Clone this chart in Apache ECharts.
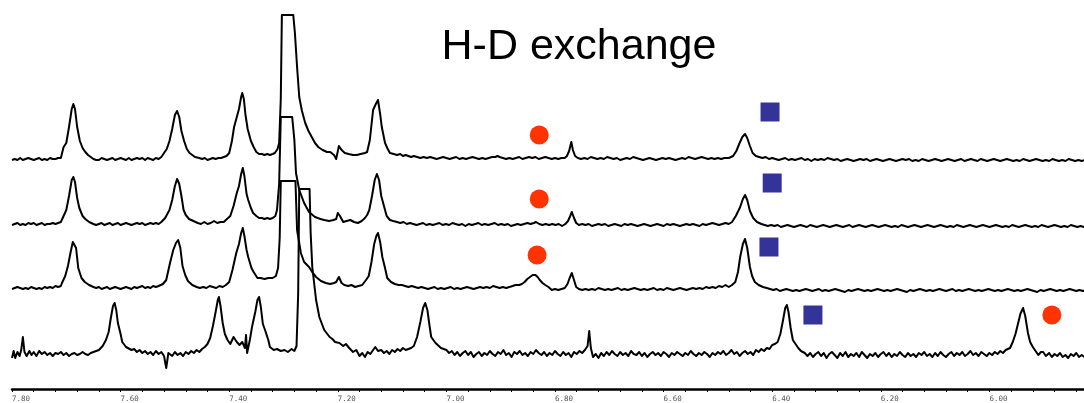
<!DOCTYPE html>
<html>
<head>
<meta charset="utf-8">
<title>H-D exchange</title>
<script src="https://cdn.jsdelivr.net/npm/echarts@6/dist/echarts.min.js"></script>
<style>
  html, body { margin: 0; padding: 0; background: #fff; }
  #chart { width: 1084px; height: 403px; }
</style>
</head>
<body>
<div id="chart"></div>
<script>
// spectra: [ppm, intensity above own baseline]
const traceA = [
[7.800,-1],[7.795,0],[7.790,-1],[7.785,1],[7.780,-1],[7.775,0],[7.770,1],[7.765,0],[7.760,-1],[7.755,0],[7.750,1],[7.745,-1],[7.740,0],[7.735,-1],[7.730,1],[7.725,0],[7.720,0],[7.715,1],[7.710,1],
[7.708,3],[7.705,12],[7.700,16],[7.695,32],[7.690,50],[7.687,55],[7.684,50],[7.680,32],[7.675,18],[7.670,11],[7.665,7],[7.660,4],[7.655,2],[7.650,0],
[7.645,-1],[7.640,-1],[7.635,1],[7.630,0],[7.625,-1],[7.620,0],[7.615,1],[7.610,-1],[7.605,0],[7.600,1],[7.595,0],[7.590,-1],[7.585,1],[7.580,-1],[7.575,0],[7.570,1],[7.565,0],[7.560,1],[7.555,-1],[7.550,1],[7.545,0],[7.540,-1],[7.535,1],[7.530,0],[7.525,2],
[7.522,4],[7.515,10],[7.510,18],[7.505,30],[7.500,44],[7.496,48],[7.492,42],[7.488,28],[7.483,18],[7.478,10],[7.473,6],[7.468,4],[7.463,2],[7.455,1],
[7.450,0],[7.445,1],[7.440,-1],[7.435,0],[7.430,1],[7.425,0],[7.420,1],[7.415,1],[7.410,2],
[7.405,3],[7.400,6],[7.395,18],[7.391,32],[7.386,42],[7.382,50],[7.378,62],[7.376,66],[7.373,60],[7.370,44],[7.366,30],[7.360,18],[7.355,12],[7.350,7],[7.345,5],
[7.340,5],[7.335,4],[7.330,5],[7.325,4],[7.320,5],[7.316,6],[7.311,10],[7.308,16],[7.305,60],[7.303,144],[7.282,144],
[7.279,126],[7.275,92],[7.271,62],[7.266,48],[7.260,36],[7.254,28],[7.248,22],[7.242,16],[7.236,12],[7.228,9],[7.220,7],[7.214,7],[7.211,9],[7.207,4],[7.203,0],[7.198,13],[7.193,9],[7.187,6],[7.180,5],[7.172,4],[7.165,4],[7.158,5],[7.150,6],[7.146,7],
[7.141,19],[7.135,49],[7.130,55],[7.126,59],[7.122,45],[7.119,32],[7.113,16],[7.108,10],[7.104,6],[7.097,5],[7.091,4],
[7.085,5],[7.080,3],[7.075,4],[7.070,3],[7.065,2],[7.060,3],[7.054,2],[7.048,1],[7.042,2],[7.036,1],[7.030,2],[7.024,1],[7.018,0],[7.012,1],[7.006,2],[7.000,1],[6.994,0],[6.988,1],[6.982,2],[6.976,0],[6.970,1],[6.964,0],[6.958,1],[6.952,2],[6.946,1],[6.940,0],[6.934,1],[6.928,0],[6.922,1],[6.916,2],[6.910,2],[6.906,3],[6.902,2],[6.896,1],[6.890,0],[6.884,1],[6.878,0],[6.872,1],[6.866,2],[6.860,0],[6.854,1],[6.848,2],[6.842,1],[6.836,2],[6.830,0],[6.824,1],[6.818,2],[6.812,1],[6.806,0],[6.800,1],[6.794,0],[6.788,1],[6.782,1],
[6.778,3],[6.774,8],[6.770,17],[6.767,9],[6.763,3],[6.758,1],[6.752,0],[6.746,1],[6.740,0],[6.734,2],[6.728,1],[6.722,0],[6.716,1],[6.710,0],[6.704,2],[6.698,1],[6.692,0],[6.686,1],[6.680,-1],[6.674,0],[6.668,1],[6.662,0],[6.656,2],[6.650,1],[6.644,0],[6.638,-1],[6.632,0],[6.626,1],[6.620,0],[6.614,-1],[6.608,0],[6.602,1],[6.596,0],[6.590,1],[6.584,0],[6.578,-1],[6.572,0],[6.566,1],[6.560,0],[6.554,2],[6.548,1],[6.542,0],[6.536,1],[6.530,2],[6.524,1],[6.518,0],[6.512,1],[6.506,0],[6.500,1],[6.494,0],[6.488,1],[6.480,1],
[6.472,3],[6.466,8],[6.460,16],[6.455,22],[6.450,25],[6.446,21],[6.441,13],[6.436,6],[6.430,3],[6.424,2],[6.418,1],[6.412,2],[6.406,0],[6.400,1],[6.394,0],[6.388,-1],[6.382,0],[6.376,1],[6.370,-1],[6.364,0],[6.358,-1],[6.352,0],[6.346,1],[6.340,-1],[6.334,0],[6.328,-2],[6.322,0],[6.316,-1],[6.310,0],[6.304,-1],[6.298,1],[6.292,0],[6.286,-1],[6.280,0],[6.274,-2],[6.268,-1],[6.262,0],[6.256,-1],[6.250,-2],[6.244,-1],[6.238,0],[6.232,-1],[6.226,0],[6.220,-2],[6.214,-1],[6.208,0],[6.202,-1],[6.196,-2],[6.190,-1],[6.184,0],[6.178,-1],[6.172,-2],[6.166,-1],[6.160,0],[6.154,-1],[6.148,0],[6.142,-2],[6.136,-1],[6.130,-2],[6.124,0],[6.118,-1],[6.112,-2],[6.106,-1],[6.100,0],[6.094,-1],[6.088,-2],[6.082,-1],[6.076,0],[6.070,-1],[6.064,-2],[6.058,-1],[6.052,0],[6.046,-2],[6.040,-1],[6.034,0],[6.028,-1],[6.022,-2],[6.016,0],[6.010,-1],[6.004,-2],[5.998,-1],[5.992,0],[5.986,-1],[5.980,-2],[5.974,-1],[5.968,0],[5.962,-1],[5.956,-2],[5.950,-1],[5.944,-2],[5.938,0],[5.932,-1],[5.926,-2],[5.920,-1],[5.914,0],[5.908,-1],[5.902,-2],[5.896,-1],[5.890,-2],[5.884,0],[5.878,-1],[5.872,-2],[5.866,-1],[5.860,-2],[5.854,0],[5.848,-1],[5.842,-2],[5.836,-1],[5.830,-2],[5.824,-1],[5.818,-2]
];

const traceB = [
[7.800,-1],[7.795,0],[7.790,1],[7.785,-1],[7.780,0],[7.775,-1],[7.770,1],[7.765,0],[7.760,1],[7.755,-1],[7.750,0],[7.745,1],[7.740,-1],[7.735,0],[7.730,0],[7.725,1],[7.720,0],[7.715,1],[7.710,2],
[7.705,8],[7.700,14],[7.695,28],[7.690,44],[7.687,47],[7.684,42],[7.680,26],[7.676,16],[7.670,8],[7.665,5],[7.658,2],[7.650,0],
[7.645,-1],[7.640,0],[7.635,1],[7.630,-1],[7.625,0],[7.620,1],[7.615,-1],[7.610,0],[7.605,1],[7.600,-1],[7.595,0],[7.590,1],[7.585,0],[7.580,-1],[7.575,0],[7.570,1],[7.565,0],[7.560,1],[7.555,-1],[7.550,0],[7.545,1],[7.540,0],[7.535,1],[7.530,0],[7.525,2],
[7.518,6],[7.510,14],[7.505,24],[7.500,38],[7.496,45],[7.492,40],[7.488,28],[7.484,14],[7.480,9],[7.474,5],[7.466,3],[7.458,1],
[7.452,0],[7.446,2],[7.440,0],[7.434,1],[7.428,3],[7.422,1],[7.416,2],[7.410,2],[7.404,5],
[7.398,8],[7.392,18],[7.386,31],[7.382,38],[7.378,50],[7.375,56],[7.372,48],[7.368,30],[7.365,24],[7.360,16],[7.356,11],[7.350,8],[7.345,6],
[7.340,6],[7.335,5],[7.330,6],[7.325,5],[7.320,6],[7.315,8],[7.312,14],[7.308,40],[7.305,107],[7.284,107],
[7.280,84],[7.277,51],[7.271,34],[7.262,21],[7.253,12],[7.242,7],[7.232,5],[7.225,4],[7.216,3],[7.208,4],[7.203,5],[7.200,11],[7.196,8],[7.190,2],[7.184,3],[7.177,4],[7.170,2],[7.163,1],[7.156,3],[7.150,6],[7.146,9],
[7.142,14],[7.137,28],[7.132,44],[7.128,50],[7.124,44],[7.120,28],[7.116,20],[7.110,8],[7.104,4],[7.098,3],[7.091,2],
[7.085,1],[7.079,2],[7.073,0],[7.067,1],[7.061,0],[7.055,-1],[7.049,0],[7.043,1],[7.037,-1],[7.031,0],[7.025,-1],[7.019,0],[7.013,1],[7.007,-1],[7.001,0],[6.995,-1],[6.989,1],[6.983,0],[6.977,-1],[6.971,0],[6.965,-2],[6.959,0],[6.953,-1],[6.947,0],[6.941,1],[6.935,-1],[6.929,0],[6.923,-1],[6.917,0],[6.911,1],[6.905,-1],[6.899,0],[6.893,-1],[6.887,0],[6.881,-2],[6.875,-1],[6.869,0],[6.863,-1],[6.857,0],[6.851,1],[6.845,0],[6.839,1],[6.835,2],[6.829,0],[6.823,-1],[6.817,0],[6.811,-1],[6.805,0],[6.799,-1],[6.793,0],[6.787,-2],[6.781,0],
[6.776,3],[6.772,8],[6.769,12],[6.765,6],[6.761,1],[6.756,-1],[6.750,0],[6.744,-1],[6.738,0],[6.732,-2],[6.726,-1],[6.720,0],[6.714,-1],[6.708,0],[6.702,-2],[6.696,-1],[6.690,0],[6.684,-1],[6.678,-2],[6.672,0],[6.666,-1],[6.660,0],[6.654,-1],[6.648,-2],[6.642,-1],[6.636,0],[6.630,-1],[6.624,-2],[6.618,-1],[6.612,0],[6.606,-1],[6.600,-2],[6.594,0],[6.588,-1],[6.582,0],[6.576,-1],[6.570,-2],[6.564,-1],[6.558,0],[6.552,-1],[6.546,0],[6.540,-1],[6.534,-2],[6.528,0],[6.522,-1],[6.516,0],[6.510,1],[6.504,0],[6.498,-1],[6.492,0],[6.486,1],[6.480,0],
[6.474,2],[6.467,8],[6.459,17],[6.454,25],[6.450,29],[6.446,24],[6.441,13],[6.435,6],[6.428,2],[6.420,0],[6.414,-1],[6.408,-2],[6.402,-1],[6.396,-2],[6.390,-1],[6.384,-3],[6.378,-2],[6.372,-1],[6.366,-2],[6.360,-3],[6.354,-2],[6.348,-1],[6.342,-2],[6.336,-3],[6.330,-1],[6.324,-2],[6.318,-3],[6.312,-2],[6.306,-1],[6.300,-2],[6.294,-3],[6.288,-2],[6.282,-1],[6.276,-2],[6.270,-3],[6.264,-2],[6.258,-1],[6.252,-3],[6.246,-2],[6.240,-1],[6.234,-2],[6.228,-3],[6.222,-2],[6.216,-1],[6.210,-2],[6.204,-3],[6.198,-2],[6.192,-1],[6.186,-2],[6.180,-3],[6.174,-2],[6.168,-3],[6.162,-1],[6.156,-2],[6.150,-3],[6.144,-2],[6.138,-1],[6.132,-2],[6.126,-3],[6.120,-2],[6.114,-1],[6.108,-2],[6.102,-3],[6.096,-2],[6.090,-1],[6.084,-2],[6.078,-3],[6.072,-2],[6.066,-3],[6.060,-1],[6.054,-2],[6.048,-3],[6.042,-2],[6.036,-1],[6.030,-2],[6.024,-3],[6.018,-2],[6.012,-1],[6.006,-2],[6.000,-3],[5.994,-2],[5.988,-1],[5.982,-2],[5.976,-3],[5.970,-2],[5.964,-3],[5.958,-1],[5.952,-2],[5.946,-3],[5.940,-2],[5.934,-1],[5.928,-2],[5.922,-3],[5.916,-2],[5.910,-3],[5.904,-1],[5.898,-2],[5.892,-3],[5.886,-2],[5.880,-1],[5.874,-2],[5.868,-3],[5.862,-2],[5.856,-3],[5.850,-1],[5.844,-2],[5.838,-3],[5.832,-2],[5.826,-3],[5.820,-2]
];

const traceC = [
[7.800,-1],[7.795,0],[7.790,1],[7.785,0],[7.780,-1],[7.775,0],[7.770,-1],[7.765,1],[7.760,0],[7.755,-1],[7.750,0],[7.745,-1],[7.740,1],[7.735,0],[7.730,1],[7.725,0],[7.720,2],[7.715,1],[7.710,2],
[7.708,5],[7.702,12],[7.697,22],[7.692,36],[7.688,46],[7.685,48],[7.682,40],[7.678,20],[7.672,10],[7.666,6],[7.658,3],[7.650,1],
[7.645,0],[7.640,1],[7.635,-1],[7.630,0],[7.625,1],[7.620,-1],[7.615,0],[7.610,1],[7.605,0],[7.600,-1],[7.595,0],[7.590,1],[7.585,0],[7.580,-1],[7.575,1],[7.570,0],[7.565,1],[7.560,2],[7.555,0],[7.550,1],[7.545,0],[7.540,2],[7.535,1],[7.530,2],[7.526,3],
[7.522,4],[7.516,8],[7.509,25],[7.503,38],[7.498,45],[7.494,48],[7.490,40],[7.486,22],[7.481,13],[7.476,7],[7.468,3],[7.460,1],
[7.454,0],[7.448,1],[7.442,0],[7.436,2],[7.430,1],[7.424,0],[7.418,2],[7.412,1],[7.406,3],
[7.400,6],[7.394,18],[7.387,35],[7.382,44],[7.378,55],[7.375,60],[7.372,52],[7.368,38],[7.365,31],[7.359,20],[7.355,16],[7.348,10],[7.342,10],[7.335,9],[7.328,10],[7.320,10],[7.314,12],[7.310,20],[7.307,50],[7.305,107],[7.278,107],
[7.275,58],[7.268,35],[7.262,26],[7.253,21],[7.246,15],[7.240,11],[7.231,7],[7.222,5],[7.214,4],[7.207,5],[7.203,6],[7.198,11],[7.193,5],[7.188,3],[7.181,2],[7.175,3],[7.168,1],[7.162,2],[7.155,3],
[7.148,8],[7.143,12],[7.138,26],[7.133,44],[7.129,52],[7.126,55],[7.122,46],[7.118,31],[7.113,20],[7.109,10],[7.102,6],[7.095,4],[7.088,3],[7.082,3],
[7.076,2],[7.070,1],[7.064,2],[7.058,1],[7.052,0],[7.046,1],[7.040,0],[7.034,-1],[7.028,0],[7.022,1],[7.016,-1],[7.010,0],[7.004,-1],[6.998,0],[6.992,1],[6.986,-1],[6.980,0],[6.974,-1],[6.968,0],[6.962,1],[6.956,0],[6.950,-1],[6.944,0],[6.938,1],[6.932,0],[6.926,1],[6.920,0],[6.914,2],[6.908,1],[6.902,0],[6.896,1],[6.890,0],[6.884,1],[6.878,2],
[6.873,3],[6.870,5],[6.866,3],[6.861,4],[6.856,6],[6.851,9],[6.846,11],[6.841,13],[6.836,13],[6.832,11],[6.828,8],[6.823,5],[6.818,3],[6.812,1],[6.806,-2],[6.800,-1],[6.794,-2],[6.788,-1],[6.782,0],
[6.777,4],[6.773,10],[6.769,15],[6.765,8],[6.761,1],[6.756,-1],[6.750,-2],[6.744,-1],[6.738,-2],[6.732,-1],[6.726,-2],[6.720,0],[6.714,-1],[6.708,-2],[6.702,-1],[6.696,-2],[6.690,-1],[6.684,0],[6.678,-2],[6.672,-1],[6.666,-2],[6.660,-1],[6.654,0],[6.648,-1],[6.642,-2],[6.636,-1],[6.630,-2],[6.624,-1],[6.618,0],[6.612,-2],[6.606,-1],[6.600,-2],[6.594,0],[6.588,-1],[6.582,-2],[6.576,-1],[6.570,0],[6.564,-1],[6.558,-2],[6.552,-1],[6.546,0],[6.540,-1],[6.534,0],[6.528,-1],[6.522,1],[6.516,0],[6.510,1],[6.504,0],[6.498,2],[6.492,1],[6.486,3],[6.480,1],
[6.474,3],[6.468,6],[6.463,16],[6.459,31],[6.454,44],[6.450,49],[6.446,40],[6.441,21],[6.437,12],[6.432,6],[6.425,3],[6.417,1],[6.410,0],[6.404,-1],[6.398,-2],[6.392,-1],[6.386,-3],[6.380,-2],[6.374,-1],[6.368,-2],[6.362,-3],[6.356,-2],[6.350,-3],[6.344,-2],[6.338,-1],[6.332,-2],[6.326,-3],[6.320,-2],[6.314,-1],[6.308,-3],[6.302,-2],[6.296,-3],[6.290,-2],[6.284,-1],[6.278,-2],[6.272,-3],[6.266,-4],[6.260,-2],[6.254,-3],[6.248,-2],[6.242,-1],[6.236,-2],[6.230,-3],[6.224,-2],[6.218,-3],[6.212,-2],[6.206,-1],[6.200,-2],[6.194,-3],[6.188,-2],[6.182,-3],[6.176,-2],[6.170,-1],[6.164,-2],[6.158,-3],[6.152,-4],[6.146,-2],[6.140,-3],[6.134,-2],[6.128,-1],[6.122,-2],[6.116,-3],[6.110,-2],[6.104,-3],[6.098,-2],[6.092,-1],[6.086,-2],[6.080,-3],[6.074,-2],[6.068,-1],[6.062,-3],[6.056,-2],[6.050,-3],[6.044,-2],[6.038,-1],[6.032,-2],[6.026,-3],[6.020,-2],[6.014,-3],[6.008,-2],[6.002,-1],[5.996,-2],[5.990,-3],[5.984,-2],[5.978,-3],[5.972,-2],[5.966,-1],[5.960,-2],[5.954,-3],[5.948,-2],[5.942,-3],[5.936,-2],[5.930,-1],[5.924,-2],[5.918,-3],[5.912,-4],[5.906,-2],[5.900,-3],[5.894,-2],[5.888,-1],[5.882,-2],[5.876,-3],[5.870,-2],[5.864,-3],[5.858,-2],[5.852,-1],[5.846,-2],[5.840,-3],[5.834,-2],[5.828,-3],[5.822,-2]
];

const traceD = [
[7.800,-4],[7.797,3],[7.794,-4],[7.790,2],[7.786,-2],[7.783,4],[7.780,17],[7.777,2],[7.773,-2],[7.768,3],[7.764,-1],[7.760,2],[7.755,-2],[7.750,3],[7.745,0],[7.740,2],[7.735,-1],[7.730,1],[7.725,-2],[7.720,1],[7.715,0],[7.710,2],[7.705,-1],[7.700,1],[7.695,-2],[7.690,0],[7.685,1],[7.680,-1],[7.675,0],[7.670,2],[7.665,0],[7.660,-1],[7.655,1],[7.650,2],[7.645,3],
[7.640,4],[7.633,8],[7.627,14],[7.622,22],[7.618,36],[7.614,48],[7.611,51],[7.608,44],[7.605,31],[7.600,20],[7.597,12],[7.590,7],[7.587,7],[7.580,4],[7.575,5],[7.570,2],[7.565,4],[7.560,1],[7.555,3],[7.550,0],[7.545,2],[7.540,-1],[7.535,3],[7.530,0],[7.525,2],[7.520,-2],[7.516,-14],[7.512,1],[7.505,-2],[7.500,2],[7.495,-1],[7.490,1],[7.485,-2],[7.480,2],[7.475,0],[7.470,3],[7.465,1],[7.460,4],[7.455,2],[7.450,5],[7.445,7],[7.440,10],
[7.435,16],[7.430,28],[7.425,42],[7.421,54],[7.419,57],[7.416,48],[7.412,31],[7.408,20],[7.403,14],[7.398,10],[7.392,17],[7.386,12],[7.381,9],[7.376,12],[7.371,6],[7.369,19],[7.367,1],[7.362,14],[7.358,27],[7.352,42],[7.348,54],[7.345,57],[7.342,48],[7.338,30],[7.334,24],[7.328,14],[7.325,7],[7.318,4],[7.312,5],[7.305,3],[7.298,4],[7.292,2],[7.285,5],[7.280,3],[7.276,8],
[7.273,60],[7.271,165],[7.252,165],[7.250,121],[7.247,87],[7.240,54],[7.234,37],[7.225,24],[7.215,17],[7.210,15],[7.205,12],[7.197,11],[7.190,8],[7.185,10],[7.179,6],[7.172,2],[7.166,4],[7.160,-2],[7.155,1],[7.150,-3],[7.145,2],[7.140,0],[7.135,4],[7.131,7],[7.126,3],[7.120,4],[7.115,1],[7.110,3],[7.105,0],[7.100,4],[7.095,2],[7.090,5],[7.085,3],[7.080,6],[7.075,4],[7.070,5],[7.065,6],[7.060,8],
[7.054,17],[7.048,32],[7.043,46],[7.039,51],[7.035,44],[7.031,28],[7.028,17],[7.020,11],[7.018,9],[7.010,6],[7.000,4],[6.995,1],[6.990,3],[6.985,-1],[6.980,2],[6.975,-2],[6.970,1],[6.965,3],[6.960,-1],[6.955,2],[6.950,-3],[6.945,0],[6.940,2],[6.935,-2],[6.930,1],[6.925,-1],[6.920,3],[6.915,0],[6.910,-2],[6.905,2],[6.900,0],[6.895,4],[6.890,-1],[6.885,1],[6.880,-3],[6.875,2],[6.870,0],[6.865,3],[6.860,-1],[6.855,1],[6.850,-2],[6.845,2],[6.840,0],[6.835,4],[6.830,1],[6.825,-1],[6.820,2],[6.815,-2],[6.810,1],[6.805,-1],[6.800,3],[6.795,0],[6.790,-2],[6.785,2],[6.780,-1],[6.775,1],[6.770,-3],[6.765,2],[6.760,0],[6.755,3],[6.750,1],[6.745,4],
[6.740,8],[6.737,23],[6.734,6],[6.730,-3],[6.725,0],[6.720,-4],[6.715,1],[6.710,-2],[6.705,2],[6.700,-1],[6.695,3],[6.690,0],[6.685,-2],[6.680,2],[6.675,-1],[6.670,1],[6.665,-2],[6.660,3],[6.655,0],[6.650,-1],[6.645,2],[6.640,-2],[6.635,1],[6.630,-3],[6.625,0],[6.620,2],[6.615,-1],[6.610,1],[6.605,-2],[6.600,2],[6.595,0],[6.590,-3],[6.585,1],[6.580,-1],[6.575,2],[6.570,0],[6.565,-2],[6.560,1],[6.555,-1],[6.550,3],[6.545,0],[6.540,-2],[6.535,1],[6.530,-1],[6.525,2],[6.520,0],[6.515,-3],[6.510,1],[6.505,-1],[6.500,2],[6.495,0],[6.490,3],[6.485,-1],[6.480,1],[6.475,4],[6.470,0],[6.465,2],[6.460,-2],[6.455,1],[6.450,3],[6.445,0],[6.440,2],[6.435,-1],[6.430,4],[6.425,2],[6.420,5],[6.415,3],[6.410,6],[6.405,5],[6.400,9],[6.395,10],
[6.390,12],[6.385,20],[6.380,34],[6.376,46],[6.373,49],[6.370,42],[6.366,26],[6.362,14],[6.357,10],[6.352,6],[6.347,3],[6.340,1],
[6.335,-2],[6.330,1],[6.325,-3],[6.320,0],[6.315,2],[6.310,-2],[6.305,1],[6.300,-4],[6.295,0],[6.290,2],[6.285,-1],[6.280,-4],[6.275,1],[6.270,-2],[6.265,2],[6.260,-3],[6.255,0],[6.250,-2],[6.245,1],[6.240,-3],[6.235,2],[6.230,-1],[6.225,-4],[6.220,0],[6.215,-2],[6.210,1],[6.205,-3],[6.200,0],[6.195,2],[6.190,-2],[6.185,1],[6.180,-3],[6.175,0],[6.170,-2],[6.165,2],[6.160,-1],[6.155,-3],[6.150,1],[6.145,-2],[6.140,0],[6.135,-3],[6.130,1],[6.125,-1],[6.120,2],[6.115,-2],[6.110,0],[6.105,-3],[6.100,1],[6.095,-2],[6.090,2],[6.085,-1],[6.080,-3],[6.075,0],[6.070,2],[6.065,-2],[6.060,1],[6.055,-1],[6.050,2],[6.045,-2],[6.040,0],[6.035,3],[6.030,-1],[6.025,1],[6.020,-2],[6.015,2],[6.010,0],[6.005,-2],[6.000,1],[5.995,-1],[5.990,2],[5.985,0],[5.980,3],[5.975,1],[5.970,4],[5.966,5],
[5.962,6],[5.957,12],[5.952,20],[5.947,31],[5.943,40],[5.938,46],[5.934,38],[5.929,21],[5.925,12],[5.920,7],[5.915,3],[5.910,-1],[5.905,2],[5.901,2],[5.896,-2],[5.890,1],[5.885,-3],[5.880,0],[5.875,-2],[5.870,1],[5.865,-3],[5.860,-1],[5.855,-4],[5.850,0],[5.845,-2],[5.840,1],[5.835,-3],[5.830,-1],[5.825,-3],[5.820,-1]
];

// markers: [ppm, plot height]
const circleMarks = [[6.829,254],[6.829,190],[6.833,134],[5.885,74]];
const squareMarks = [[6.404,277],[6.400,206],[6.406,142],[6.325,74]];

const titleText = 'H-D exchange';
const ppmMin = 5.8, ppmMax = 7.8, ppmStep = 0.2;

// vertical stacking of the four spectra (layout, in plot units)
const traces = [traceA, traceB, traceC, traceD];
const baselines = [230, 165, 101, 35];

const chart = echarts.init(document.getElementById('chart'), null, { renderer: 'canvas' });

const lineSeries = traces.map((tr, i) => ({
    type: 'line',
    data: tr.map(p => [p[0], p[1] + baselines[i]]),
    showSymbol: false,
    symbol: 'none',
    smooth: false,
    lineStyle: { color: '#000', width: 2, join: 'round' },
    silent: true,
    z: 2
}));

chart.setOption({
    animation: false,
    backgroundColor: '#fff',
    // the axis runs on past the right edge, down to 5.80 ppm
    grid: { left: 12, top: 0, width: 1086, height: 389, containLabel: false, outerBoundsMode: 'none' },
    graphic: [{
        type: 'text',
        x: 579,
        y: 47.5,
        style: {
            text: titleText,
            fontFamily: 'Liberation Sans, Arial, sans-serif',
            fontSize: 43,
            fill: '#000',
            textAlign: 'center',
            textVerticalAlign: 'middle'
        },
        z: 10
    }],
    xAxis: {
        type: 'value',
        inverse: true,
        min: ppmMin,
        max: ppmMax,
        interval: ppmStep,
        axisLine: { show: true, onZero: false, lineStyle: { color: '#000', width: 2.5 } },
        axisTick: { show: true, length: 3, lineStyle: { color: '#000', width: 1 } },
        minorTick: { show: true, splitNumber: 5, length: 3, lineStyle: { color: '#000', width: 1 } },
        splitLine: { show: false },
        axisLabel: {
            formatter: v => v.toFixed(2),
            fontFamily: 'DejaVu Sans Mono, monospace',
            fontSize: 7.5,
            color: '#555',
            align: 'left',
            margin: 6
        }
    },
    yAxis: { type: 'value', min: 0, max: 389, show: false },
    series: lineSeries.concat([
        {
            type: 'scatter',
            data: circleMarks,
            symbol: 'circle',
            symbolSize: 19,
            itemStyle: { color: '#FF3300', opacity: 1 },
            silent: true,
            z: 5
        },
        {
            type: 'scatter',
            data: squareMarks,
            symbol: 'rect',
            symbolSize: 19,
            itemStyle: { color: '#333399', opacity: 1 },
            silent: true,
            z: 5
        }
    ])
});
</script>
</body>
</html>
